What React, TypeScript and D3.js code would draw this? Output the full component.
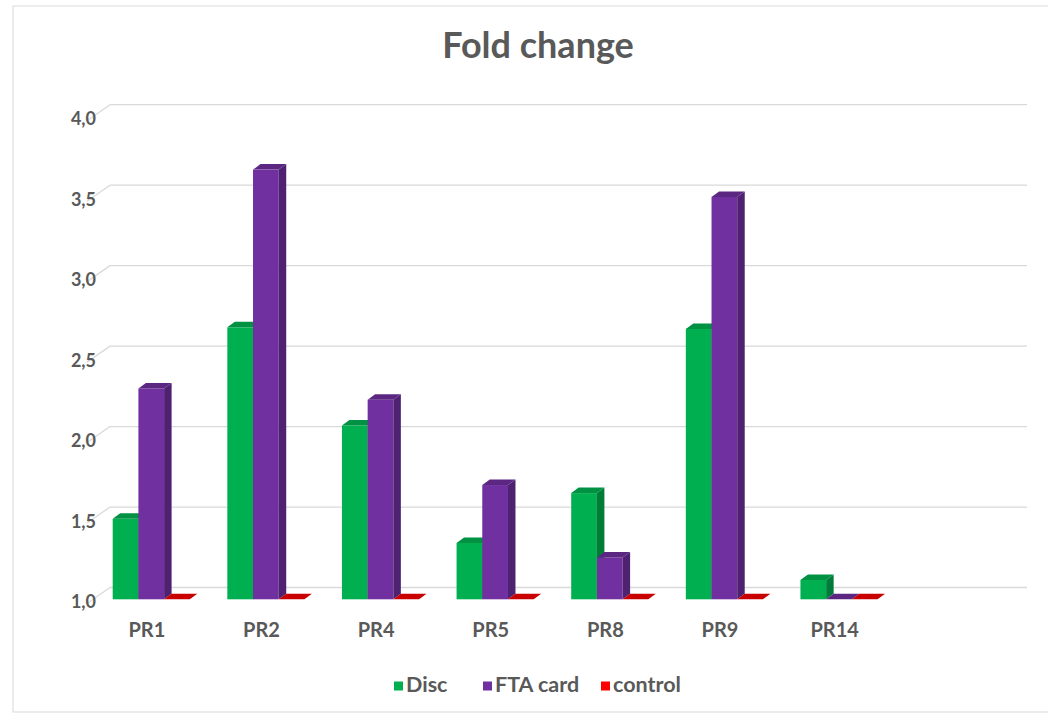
import * as d3 from 'd3';

const categories = ['PR1', 'PR2', 'PR4', 'PR5', 'PR8', 'PR9', 'PR14'];
const seriesNames = ['Disc', 'FTA card', 'control'];
const discValues = [1.5, 2.69, 2.08, 1.35, 1.66, 2.68, 1.12];
const ftaValues = [2.31, 3.67, 2.24, 1.71, 1.26, 3.5, 1.0];
const controlValues = [1.0, 1.0, 1.0, 1.0, 1.0, 1.0, 1.0];
const yTicks = [1.0, 1.5, 2.0, 2.5, 3.0, 3.5, 4.0];

const colors = ['#00b050', '#7030a0', '#ff0000'];
const W = 1048;
const H = 715;
const TEXT = '#595959';
const FONT = 'Lato, "Open Sans", sans-serif';

// 3d geometry
const frontLeft = 87;
const frontRight = 1004;
const wallDx = 23;
const wallDy = 16;
const barDx = 7.5;
const barDy = 5.5;

export default function App() {
  const y = d3.scaleLinear().domain([1, 4]).range([603.5, 120.7]);
  // plot has room for one more empty slot at the right
  const step = (frontRight - frontLeft) / (categories.length + 1);
  const x = d3
    .scaleBand()
    .domain(categories)
    .range([frontLeft, frontLeft + step * categories.length]);
  const inner = d3
    .scaleBand()
    .domain(seriesNames)
    .range([25.7, 25.7 + 77.1]);
  const bw = inner.bandwidth();
  const barShift = 4.2;
  const fmt = (v: number) => d3.format('.1f')(v).replace('.', ',');

  const values = [discValues, ftaValues, controlValues];

  const bars: JSX.Element[] = [];
  categories.forEach((c, i) => {
    seriesNames.forEach((s, j) => {
      const v = values[j][i];
      const x0 = x(c)! + inner(s)!;
      const x1 = x0 + bw;
      const yb = y(1) - barShift;
      const yt = y(v) - barShift;
      const col = d3.color(colors[j])!;
      const top = col.darker(0.55).formatHex();
      const side = col.darker(1.0).formatHex();
      const k = `${c}-${s}`;
      if (yb - yt > 0.5) {
        bars.push(
          <g key={k}>
            <rect x={x0} y={yt} width={bw} height={yb - yt} fill={colors[j]} />
            <polygon
              points={`${x1},${yt} ${x1 + barDx},${yt - barDy} ${x1 + barDx},${yb - barDy} ${x1},${yb}`}
              fill={side}
            />
            <polygon
              points={`${x0},${yt} ${x0 + barDx},${yt - barDy} ${x1 + barDx},${yt - barDy} ${x1},${yt}`}
              fill={top}
            />
          </g>
        );
      } else {
        bars.push(
          <polygon
            key={k}
            points={`${x0},${yb} ${x0 + barDx},${yb - barDy} ${x1 + barDx},${yb - barDy} ${x1},${yb}`}
            fill={j === 2 ? '#c80000' : top}
          />
        );
      }
    });
  });

  const legendX = [394, 483, 601];

  return (
    <svg
      width={W}
      height={H}
      style={{ position: 'absolute', left: 0, top: 0, background: '#fff' }}
      fontFamily={FONT}
    >
      <rect x={13} y={6} width={W} height={706} fill="#fff" stroke="#d9d9d9" strokeWidth={1} />
      <text
        x={538}
        y={49}
        textAnchor="middle"
        dominantBaseline="middle"
        fontSize={36}
        fontWeight="bold"
        fill={TEXT}
      >
        Fold change
      </text>

      {yTicks.map((t) => (
        <g key={t}>
          <line
            x1={frontLeft}
            y1={y(t)}
            x2={frontLeft + wallDx}
            y2={y(t) - wallDy}
            stroke="#d9d9d9"
            strokeWidth={1.3}
          />
          <line
            x1={frontLeft + wallDx}
            y1={y(t) - wallDy}
            x2={frontRight + wallDx}
            y2={y(t) - wallDy}
            stroke="#d9d9d9"
            strokeWidth={1.3}
          />
          <text
            x={96}
            y={y(t)}
            textAnchor="end"
            dominantBaseline="middle"
            fontSize={18}
            fontWeight="bold"
            fill={TEXT}
          >
            {fmt(t)}
          </text>
        </g>
      ))}

      {bars}

      {categories.map((c) => (
        <text
          key={c}
          x={x(c)! + x.bandwidth() / 2 + 2.6}
          y={632}
          textAnchor="middle"
          dominantBaseline="middle"
          fontSize={20}
          fontWeight="bold"
          fill={TEXT}
        >
          {c}
        </text>
      ))}

      {seriesNames.map((s, j) => (
        <g key={s} transform={`translate(${legendX[j]},686)`}>
          <rect x={0} y={-4.5} width={9} height={9} fill={colors[j]} />
          <text x={12} y={0} dominantBaseline="middle" fontSize={21.5} fontWeight="bold" fill={TEXT}>
            {s}
          </text>
        </g>
      ))}
    </svg>
  );
}
